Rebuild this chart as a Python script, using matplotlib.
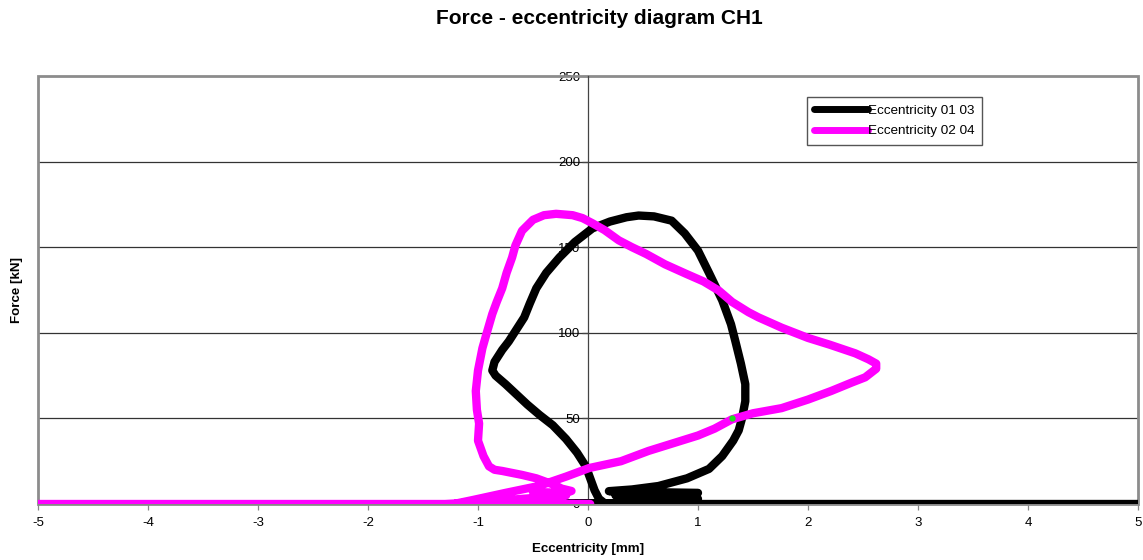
import matplotlib.pyplot as plt
from matplotlib.patches import Rectangle

plt.rcParams['font.family'] = ['Liberation Sans', 'DejaVu Sans']
plt.rcParams['axes.unicode_minus'] = False

# Eccentricity 01 03 (black) - eccentricity in mm, force in kN
ecc1_x = [0.15, 0.10, 0.06, 0.02, -0.02, -0.10, -0.20, -0.32, -0.44, -0.55, -0.65, -0.75,
          -0.84, -0.87, -0.85, -0.78, -0.72, -0.65, -0.58, -0.53, -0.47, -0.38, -0.26,
          -0.12, 0.04, 0.20, 0.35, 0.46, 0.60, 0.76, 0.88, 1.00, 1.10, 1.22, 1.30, 1.34,
          1.39, 1.43, 1.43, 1.40, 1.37, 1.32, 1.22, 1.10, 0.90, 0.64, 0.40, 0.19, 0.50,
          1.00, 0.95, 0.50, 0.25, 0.60, 1.00, 0.30, -1.10, 5.00]
ecc1_f = [0.5, 3, 8, 15, 22, 30, 38, 46, 52, 58, 64, 70,
          75, 78, 83, 90, 95, 102, 109, 117, 126, 135, 144,
          153, 161, 165, 167.5, 168.5, 168, 165.5, 158, 148, 135, 119, 105, 95,
          82, 70, 60, 50, 43, 37, 28, 20.5, 15, 10.5, 8.5, 7.5, 7,
          6.5, 5, 4.5, 5, 3.5, 3, 0.5, 0, 0]

# Eccentricity 02 04 (magenta)
ecc2_x = [0.02, -1.20, -1.05, -0.75, -0.45, -0.20, 0.01, 0.30, 0.55, 0.80, 1.00, 1.15,
          1.31, 1.50, 1.76, 2.00, 2.21, 2.40, 2.52, 2.62, 2.62, 2.55, 2.43, 2.20, 2.00,
          1.76, 1.55, 1.46, 1.31, 1.19, 1.05, 0.89, 0.70, 0.53, 0.40, 0.28, 0.15, 0.04,
          -0.05, -0.14, -0.29, -0.40, -0.50, -0.60, -0.66, -0.69, -0.74, -0.78, -0.83,
          -0.87, -0.92, -0.96, -1.00, -1.02, -1.01, -0.99, -1.00, -0.95, -0.90, -0.85,
          -0.78, -0.60, -0.47, -0.30, -0.24, -0.15, -0.20, -0.50, -0.20, -1.00, -1.30, -5.00]
ecc2_f = [0, 0.3, 2.3, 6.5, 10.5, 16, 21, 25, 31, 36, 40, 44,
          49.5, 53, 56, 61, 66, 71, 74, 79, 82, 84.5, 88, 93, 97,
          103, 109, 112, 118, 124.6, 130, 134.5, 140, 146, 150, 154, 160, 164,
          167, 168.7, 169.5, 168.7, 166, 159.6, 151, 144, 135, 126, 118,
          111, 100, 91, 78, 66, 55, 47, 37, 28, 22, 20,
          19.3, 17, 15, 11, 9, 7.6, 6.5, 7, 5, 1, 0, 0]

fig = plt.figure(figsize=(11.43, 5.6), dpi=100)
ax = fig.add_axes([38/1143, 1 - 504/560, 1100/1143, 428/560])

ax.plot(ecc1_x, ecc1_f, color='black', lw=6, solid_capstyle='round',
        solid_joinstyle='round', label='Eccentricity 01 03', zorder=3)
ax.plot(ecc2_x, ecc2_f, color='#FF00FF', lw=6, solid_capstyle='round',
        solid_joinstyle='round', label='Eccentricity 02 04', zorder=4)
ax.plot([1.31], [50], 'o', color='#22DD22', ms=3.5, zorder=5)

ax.set_xlim(-5, 5)
ax.set_ylim(0, 250)
ax.set_xticks(range(-5, 6))
ax.set_yticks(range(0, 251, 50))

for y in [50, 100, 150, 200]:
    ax.axhline(y, color='#333333', lw=0.9, zorder=1)

# y axis in the middle, x axis along zero
ax.spines['left'].set_position(('data', 0))
ax.spines['left'].set_color('#444444')
ax.spines['left'].set_linewidth(0.9)
ax.spines['bottom'].set_color('#888888')
ax.spines['right'].set_visible(False)
ax.spines['top'].set_visible(False)
ax.tick_params(axis='y', direction='out', length=4, width=0.9, color='#444444',
               labelsize=9.5, pad=1.5)
ax.tick_params(axis='x', direction='out', length=4, width=0.9, color='#888888',
               labelsize=9.5, pad=5)
for lbl in ax.get_yticklabels():
    lbl.set_zorder(6)

# plot area frame
ax.add_patch(Rectangle((0, 0), 1, 1, transform=ax.transAxes, fill=False,
                       edgecolor='#8c8c8c', lw=2, clip_on=False, zorder=2))

leg = ax.legend(loc='upper left', bbox_to_anchor=((807 - 38) / 1100, (504 - 97) / 428),
                fontsize=9.7, handlelength=4.0, handletextpad=0.0, borderpad=0.55,
                labelspacing=0.6, fancybox=False, framealpha=1, borderaxespad=0)
leg.get_frame().set_edgecolor('#555555')
leg.get_frame().set_linewidth(1)
for line in leg.get_lines():
    line.set_linewidth(5)

fig.text(599/1143, 1 - 18/560, 'Force - eccentricity diagram CH1', ha='center', va='center',
         fontsize=15, fontweight='bold')
fig.text(588/1143, 1 - 549/560, 'Eccentricity [mm]', ha='center', va='center',
         fontsize=9.6, fontweight='bold')
fig.text(17/1143, 1 - 290/560, 'Force [kN]', ha='center', va='center', rotation=90,
         fontsize=9.6, fontweight='bold')

fig.savefig('out.png', dpi=100)
